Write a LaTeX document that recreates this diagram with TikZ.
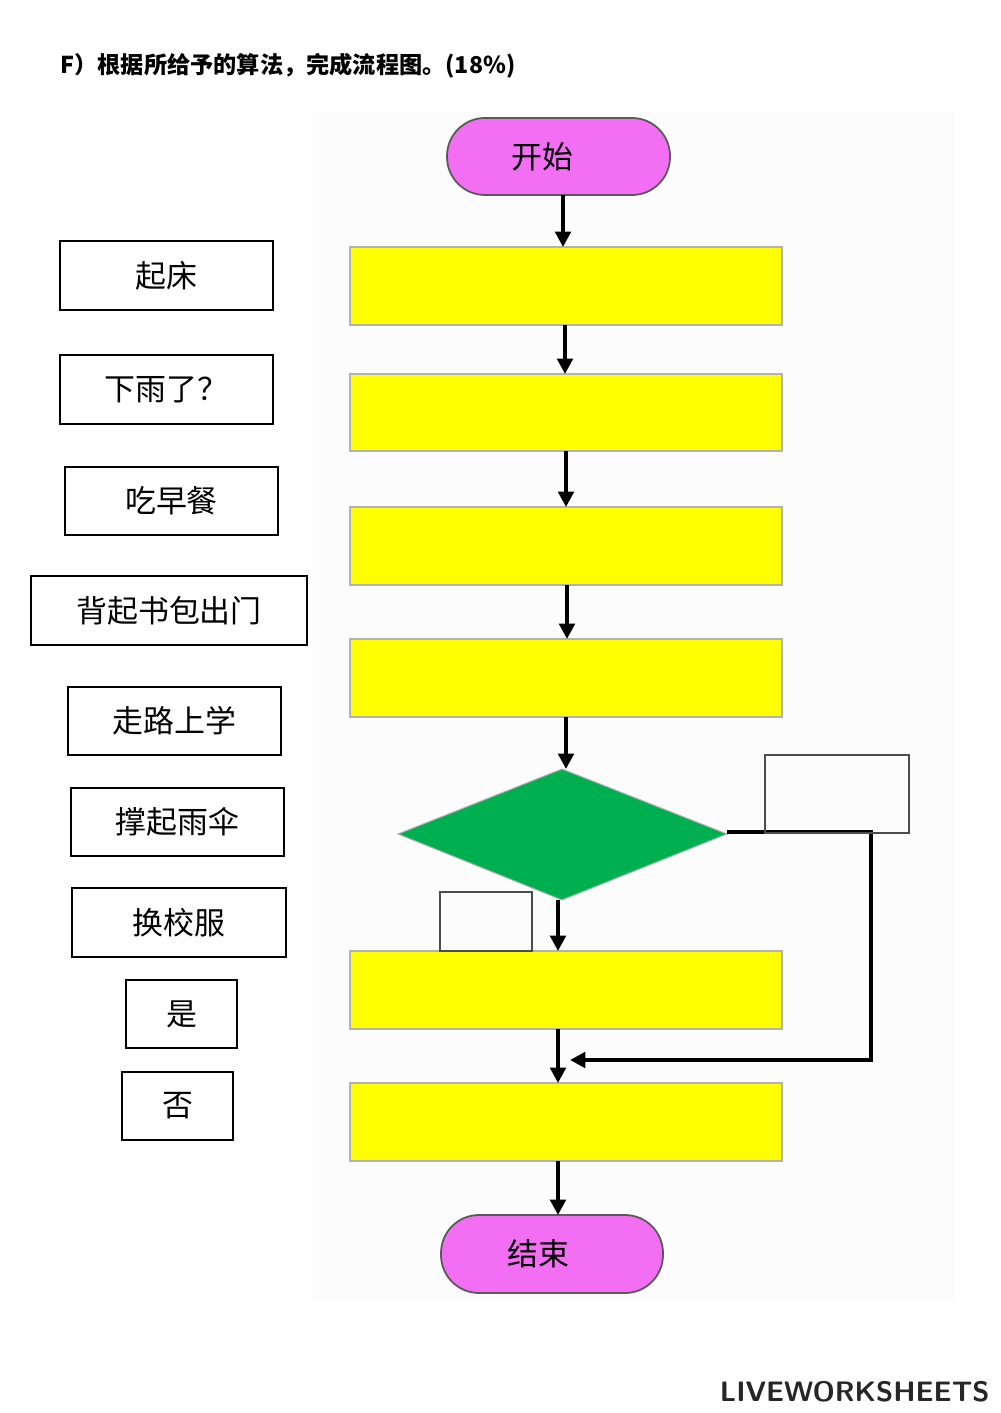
\documentclass[tikz,border=0pt]{standalone}
\usepackage{fontspec}
\newfontfamily\cjk{Noto Sans CJK SC}
\usetikzlibrary{shapes.geometric,arrows.meta}
\definecolor{mag}{HTML}{F26EF2}
\definecolor{yel}{HTML}{FFFF00}
\definecolor{grn}{HTML}{00B050}
\tikzset{
 yb/.style={draw=gray!60,fill=yel,line width=2.5pt},
 term/.style={draw=gray!70!black,fill=mag,line width=2.5pt,rounded corners=19mm},
 lbl/.style={draw=black,line width=2pt},
 ltxt/.style={font=\cjk\fontsize{44}{50}\selectfont},
 arr/.style={line width=6.5pt,-{Triangle[length=22pt,width=22pt]}}
}
\begin{document}
\begin{tikzpicture}[x=0.05cm,y=-0.05cm]
\useasboundingbox (0,0) rectangle (1000,1413);
\fill[gray!2] (313,112) rectangle (955,1300);
\node[anchor=west,font=\cjk\bfseries\fontsize{33}{38}\selectfont] (title) at (58,66) {F）根据所给予的算法，完成流程图。(18\%)};
% terminators
\draw[term] (447,118) rectangle (670,195);
\node[ltxt] (start) at (542,157) {开始};
\draw[term] (441,1215) rectangle (663,1293);
\node[ltxt] (end) at (538,1254) {结束};
% yellow boxes
\foreach \a/\b in {247/325,374/451,507/585,639/717,951/1029,1083/1161}{
 \draw[yb] (350,\a) rectangle (782,\b);
}
\draw[fill=grn,draw=gray!60,line width=1.5pt] (398,834) -- (562,769) -- (727,834) -- (562,900) -- cycle;
\coordinate (dm) at (562,834);
% arrows
\draw[arr] (563,195) -- (563,247);
\draw[arr] (565,325) -- (565,374);
\draw[arr] (566,451) -- (566,507);
\draw[arr] (567,585) -- (567,639);
\draw[arr] (566,717) -- (566,769);
\draw[arr] (558,900) -- (558,951);
\draw[arr] (558,1029) -- (558,1083);
\draw[arr] (558,1161) -- (558,1215);
\draw[line width=6.5pt,line join=miter] (727,832) -- (871,832) -- (871,1060) -- (580,1060);
\draw[arr] (600,1060) -- (570,1060);
% empty boxes
\draw[lbl,draw=gray!60!black] (765,755) rectangle (909,833);
\draw[lbl,draw=gray!60!black] (440,892) rectangle (532,951);
% labels
\foreach \t/\x/\y/\X/\Y in {起床/60/241/273/310,下雨了？/60/355/273/424,吃早餐/65/467/278/535,背起书包出门/31/576/307/645,走路上学/68/687/281/755,撑起雨伞/71/788/284/856,换校服/72/888/286/957,是/126/980/237/1048,否/122/1072/233/1140}{
 \draw[lbl] (\x,\y) rectangle (\X,\Y);
 \node[ltxt] at ({(\x+\X)/2},{(\y+\Y)/2}) {\t};
}
\node[anchor=east,font=\sffamily\bfseries\fontsize{40}{44}\selectfont,text=black!85] (logo) at (992,1392) {LIVEWORKSHEETS};
\end{tikzpicture}
\end{document}
